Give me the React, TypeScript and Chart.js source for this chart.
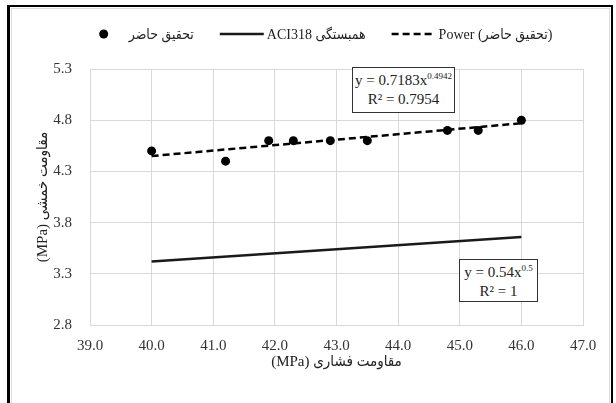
import React, { useEffect, useRef } from 'react';
import { Chart, registerables } from 'chart.js';

Chart.register(...registerables);

// ---- data ----
const compressiveMPa = [40.0, 41.2, 41.9, 42.3, 42.9, 43.5, 44.8, 45.3, 46.0];
const flexuralMPa = [4.5, 4.4, 4.6, 4.6, 4.6, 4.6, 4.7, 4.7, 4.8];
const powerTrendX = [40.0, 46.0];
const powerTrendY = [4.45, 4.77];
const aciX = [40.0, 46.0];
const aciY = [3.42, 3.66];

const seriesLabels = ['تحقیق حاضر', 'ACI318 همبستگی', 'Power (تحقیق حاضر)'];
const xTitle = '(MPa) مقاومت فشاری';
const yTitle = '(MPa) مقاومت خمشی';
const xRange = [39, 47];
const yRange = [2.8, 5.3];
const powerEq = { a: '0.7183', b: '0.4942', r2: '0.7954' };
const aciEq = { a: '0.54', b: '0.5', r2: '1' };

const SERIF = '"Liberation Serif", "Times New Roman", "DejaVu Sans Condensed", "DejaVu Sans", serif';

const legendPlugin = {
  id: 'excelLegend',
  afterDraw(chart: any) {
    const ctx = chart.ctx as CanvasRenderingContext2D;
    ctx.save();
    ctx.font = `14px ${SERIF}`;
    const slot = 44, textGap = 3, itemGap = 26;
    const dss = chart.data.datasets;
    const widths = dss.map((d: any) => ctx.measureText(d.label).width);
    const total = widths.reduce((a: number, w: number) => a + slot + textGap + w, 0) + itemGap * (dss.length - 1);
    let x = 317 - total / 2;
    const y = 34;
    dss.forEach((d: any, i: number) => {
      if (d.showLine === false) {
        ctx.beginPath();
        ctx.fillStyle = d.backgroundColor;
        ctx.arc(x + slot / 2, y, 4.5, 0, Math.PI * 2);
        ctx.fill();
      } else {
        ctx.beginPath();
        ctx.strokeStyle = d.borderColor;
        ctx.lineWidth = d.borderWidth;
        ctx.setLineDash(d.borderDash || []);
        ctx.moveTo(x, y);
        ctx.lineTo(x + slot, y);
        ctx.stroke();
        ctx.setLineDash([]);
      }
      ctx.fillStyle = '#222';
      ctx.textAlign = 'left';
      ctx.textBaseline = 'middle';
      ctx.fillText(d.label, x + slot + textGap, y + 1);
      x += slot + textGap + widths[i] + itemGap;
    });
    ctx.restore();
  },
};

function EqBox({ left, top, width, height, eq }: any) {
  return (
    <div
      style={{
        position: 'absolute', left, top, width, height, boxSizing: 'border-box',
        border: '1.5px solid #333', background: '#fff', fontFamily: SERIF,
        fontSize: 15, color: '#222', textAlign: 'center', lineHeight: '19px',
        paddingTop: 3,
      }}
    >
      <div>y = {eq.a}x<sup style={{ fontSize: 9, verticalAlign: 'top', lineHeight: '10px' }}>{eq.b}</sup></div>
      <div>R² = {eq.r2}</div>
    </div>
  );
}

export default function App() {
  const ref = useRef<HTMLCanvasElement>(null);
  useEffect(() => {
    if (!ref.current) return;
    const chart = new Chart(ref.current, {
      type: 'scatter',
      data: {
        datasets: [
          {
            label: seriesLabels[0],
            data: compressiveMPa.map((x, i) => ({ x, y: flexuralMPa[i] })),
            showLine: false,
            pointRadius: 4.5,
            pointHoverRadius: 4.5,
            backgroundColor: '#000',
            borderColor: '#000',
            borderWidth: 0,
          },
          {
            label: seriesLabels[1],
            data: aciX.map((x, i) => ({ x, y: aciY[i] })),
            showLine: true,
            pointRadius: 0,
            borderColor: '#1a1a1a',
            backgroundColor: '#1a1a1a',
            borderWidth: 2.5,
          },
          {
            label: seriesLabels[2],
            data: powerTrendX.map((x, i) => ({ x, y: powerTrendY[i] })),
            showLine: true,
            pointRadius: 0,
            borderColor: '#000',
            backgroundColor: '#000',
            borderWidth: 2.5,
            borderDash: [7, 4],
          },
        ] as any,
      },
      options: {
        animation: false,
        responsive: false,
        layout: { padding: { top: 69, right: 33, left: 0, bottom: 0 } },
        plugins: { legend: { display: false }, tooltip: { enabled: false } },
        scales: {
          x: {
            type: 'linear',
            min: xRange[0],
            max: xRange[1],
            afterFit: (s: any) => { s.height = 78; },
            ticks: {
              stepSize: 1,
              padding: 12,
              color: '#333',
              font: { family: SERIF, size: 15 },
              callback: (v: any) => Number(v).toFixed(1),
            },
            grid: { color: '#d9d9d9', lineWidth: 1, drawTicks: false },
            border: { color: '#d9d9d9' },
            title: {
              display: true,
              text: xTitle,
              color: '#222',
              font: { family: SERIF, size: 15 },
              padding: { top: 0, bottom: 32 },
            },
          },
          y: {
            type: 'linear',
            min: yRange[0],
            max: yRange[1],
            afterFit: (s: any) => { s.width = 90; },
            ticks: {
              stepSize: 0.5,
              padding: 18,
              color: '#333',
              font: { family: SERIF, size: 15 },
              callback: (v: any) => Number(v).toFixed(1),
            },
            grid: { color: '#d9d9d9', lineWidth: 1, drawTicks: false },
            border: { color: '#d9d9d9' },
            title: {
              display: true,
              text: yTitle,
              color: '#222',
              font: { family: SERIF, size: 15 },
              padding: { top: 34, bottom: 0 },
            },
          },
        },
      } as any,
      plugins: [legendPlugin],
    });
    return () => chart.destroy();
  }, []);

  return (
    <div>
      <div style={{ position: 'absolute', left: 0, top: 0, width: 616, height: 403, overflow: 'hidden' }}>
        <canvas ref={ref} width={616} height={403} style={{ display: 'block', width: 616, height: 403 }} />
        <div
          style={{
            position: 'absolute', left: 7, top: 5, width: 606, height: 420, boxSizing: 'border-box',
            borderLeft: '3px solid #000', borderTop: '2px solid #000', borderRight: '2px solid #000',
            pointerEvents: 'none',
          }}
        >
          <div style={{ position: 'absolute', left: 1, top: 1, right: 1, bottom: 1, border: '1px solid #dcdcdc' }} />
        </div>
        <EqBox left={352} top={67} width={103} height={46} eq={powerEq} />
        <EqBox left={459} top={259} width={79} height={43} eq={aciEq} />
      </div>
    </div>
  );
}
